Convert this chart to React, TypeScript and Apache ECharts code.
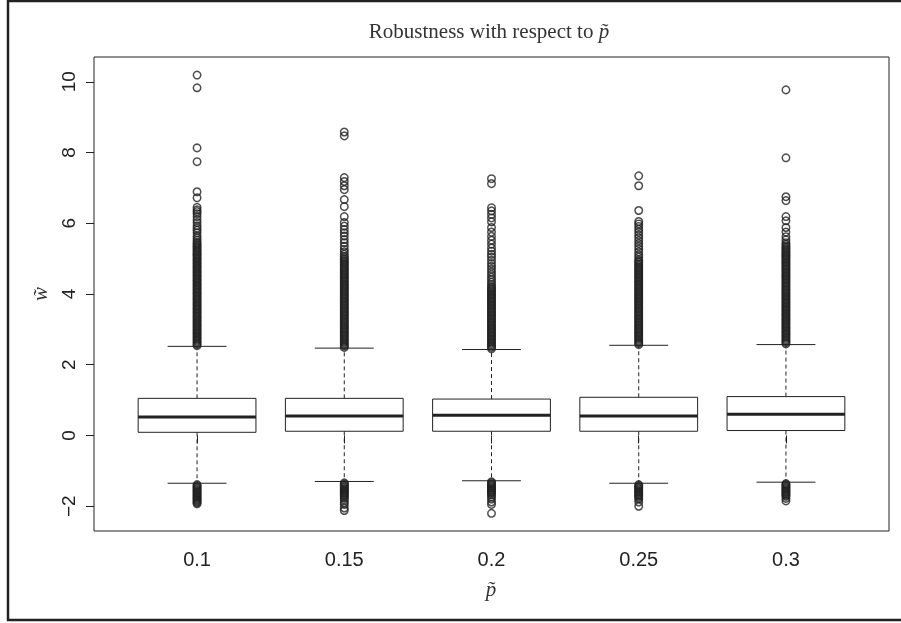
import React, { useEffect, useRef } from "react";
import * as echarts from "echarts";

const categories = ["0.1", "0.15", "0.2", "0.25", "0.3"];
const yTicks = [-2, 0, 2, 4, 6, 8, 10];

const lowerWhisker = [-1.35, -1.3, -1.28, -1.35, -1.32];
const q1 = [0.09, 0.12, 0.12, 0.12, 0.14];
const median = [0.52, 0.55, 0.57, 0.55, 0.6];
const q3 = [1.05, 1.05, 1.03, 1.08, 1.1];
const upperWhisker = [2.52, 2.47, 2.43, 2.55, 2.57];

const outliers1 = [
  2.54, 2.58, 2.62, 2.66, 2.7, 2.74, 2.78, 2.82, 2.86, 2.9, 2.94, 2.98, 3.02, 3.06, 3.1, 3.14, 3.18, 3.22,
  3.26, 3.3, 3.34, 3.38, 3.42, 3.46, 3.5, 3.54, 3.58, 3.62, 3.66, 3.7, 3.74, 3.78, 3.82, 3.86, 3.9, 3.94,
  3.98, 4.02, 4.06, 4.1, 4.14, 4.18, 4.22, 4.26, 4.3, 4.34, 4.38, 4.42, 4.46, 4.5, 4.54, 4.58, 4.62, 4.66,
  4.7, 4.74, 4.78, 4.82, 4.86, 4.9, 4.94, 4.98, 5.02, 5.06, 5.1, 5.14, 5.18, 5.22, 5.26, 5.3, 5.34, 5.38,
  5.42, 5.46, 5.52, 5.58, 5.64, 5.73, 5.8, 5.86, 5.93, 6.02, 6.1, 6.19, 6.27, 6.33, 6.38, 6.45, 6.72, 6.89,
  7.74, 8.13, 9.83, 10.19,
  -1.39, -1.42, -1.45, -1.48, -1.51, -1.54, -1.57, -1.6, -1.63, -1.66, -1.69, -1.72, -1.75, -1.78, -1.81,
  -1.84, -1.87, -1.9, -1.93,
];
const outliers2 = [
  2.49, 2.53, 2.57, 2.61, 2.65, 2.69, 2.73, 2.77, 2.81, 2.85, 2.89, 2.93, 2.97, 3.01, 3.05, 3.09, 3.13, 3.17,
  3.21, 3.25, 3.29, 3.33, 3.37, 3.41, 3.45, 3.49, 3.53, 3.57, 3.61, 3.65, 3.69, 3.73, 3.77, 3.81, 3.85, 3.89,
  3.93, 3.97, 4.01, 4.05, 4.09, 4.13, 4.17, 4.21, 4.25, 4.29, 4.33, 4.37, 4.41, 4.45, 4.49, 4.53, 4.57, 4.61,
  4.65, 4.69, 4.73, 4.77, 4.81, 4.85, 4.89, 4.93, 4.97, 5.01, 5.06, 5.12, 5.19, 5.26, 5.35, 5.45, 5.54, 5.64,
  5.73, 5.82, 5.92, 6.02, 6.19, 6.47, 6.67, 6.95, 7.06, 7.18, 7.29, 8.47, 8.58,
  -1.34, -1.37, -1.4, -1.43, -1.46, -1.49, -1.52, -1.55, -1.58, -1.61, -1.64, -1.67, -1.7, -1.74, -1.78,
  -1.83, -1.9, -1.95, -2.05, -2.12,
];
const outliers3 = [
  2.45, 2.49, 2.53, 2.57, 2.61, 2.65, 2.69, 2.73, 2.77, 2.81, 2.85, 2.89, 2.93, 2.97, 3.01, 3.05, 3.09, 3.13,
  3.17, 3.21, 3.25, 3.29, 3.33, 3.37, 3.41, 3.45, 3.49, 3.53, 3.57, 3.61, 3.65, 3.69, 3.73, 3.77, 3.81, 3.85,
  3.89, 3.93, 3.97, 4.01, 4.05, 4.09, 4.13, 4.17, 4.21, 4.27, 4.33, 4.4, 4.47, 4.55, 4.62, 4.7, 4.78, 4.86,
  4.95, 5.04, 5.12, 5.21, 5.3, 5.41, 5.52, 5.63, 5.75, 5.88, 6.04, 6.15, 6.25, 6.35, 6.44, 7.12, 7.26,
  -1.31, -1.34, -1.37, -1.4, -1.43, -1.46, -1.49, -1.52, -1.55, -1.58, -1.61, -1.64, -1.68, -1.74, -1.8,
  -1.88, -1.95, -2.2,
];
const outliers4 = [
  2.57, 2.61, 2.65, 2.69, 2.73, 2.77, 2.81, 2.85, 2.89, 2.93, 2.97, 3.01, 3.05, 3.09, 3.13, 3.17, 3.21, 3.25,
  3.29, 3.33, 3.37, 3.41, 3.45, 3.49, 3.53, 3.57, 3.61, 3.65, 3.69, 3.73, 3.77, 3.81, 3.85, 3.89, 3.93, 3.97,
  4.01, 4.05, 4.09, 4.13, 4.17, 4.21, 4.25, 4.29, 4.33, 4.37, 4.41, 4.45, 4.49, 4.53, 4.57, 4.61, 4.65, 4.69,
  4.73, 4.77, 4.81, 4.85, 4.89, 4.93, 4.97, 5.04, 5.11, 5.19, 5.27, 5.35, 5.43, 5.51, 5.59, 5.67, 5.75, 5.83,
  5.91, 5.98, 6.05, 6.36, 7.06, 7.34,
  -1.39, -1.42, -1.45, -1.48, -1.51, -1.54, -1.57, -1.6, -1.63, -1.66, -1.69, -1.72, -1.76, -1.8, -1.88, -2.0,
];
const outliers5 = [
  2.59, 2.63, 2.67, 2.71, 2.75, 2.79, 2.83, 2.87, 2.91, 2.95, 2.99, 3.03, 3.07, 3.11, 3.15, 3.19, 3.23, 3.27,
  3.31, 3.35, 3.39, 3.43, 3.47, 3.51, 3.55, 3.59, 3.63, 3.67, 3.71, 3.75, 3.79, 3.83, 3.87, 3.91, 3.95, 3.99,
  4.03, 4.07, 4.11, 4.15, 4.19, 4.23, 4.27, 4.31, 4.35, 4.39, 4.43, 4.47, 4.51, 4.55, 4.59, 4.63, 4.67, 4.71,
  4.75, 4.79, 4.83, 4.87, 4.91, 4.95, 4.99, 5.03, 5.07, 5.11, 5.15, 5.19, 5.23, 5.27, 5.31, 5.35, 5.4, 5.45,
  5.53, 5.62, 5.75, 5.88, 6.07, 6.19, 6.64, 6.75, 7.85, 9.77,
  -1.36, -1.39, -1.42, -1.45, -1.48, -1.51, -1.54, -1.57, -1.6, -1.63, -1.66, -1.69, -1.72, -1.78, -1.85,
];
const outlierGroups = [outliers1, outliers2, outliers3, outliers4, outliers5];

const INK = "#222";

export default function App() {
  const ref = useRef<HTMLDivElement>(null);
  useEffect(() => {
    if (!ref.current) return;
    const chart = echarts.init(ref.current, null, { renderer: "svg" });
    const boxData = categories.map((_, i) => [i + 1, lowerWhisker[i], q1[i], median[i], q3[i], upperWhisker[i]]);
    const outlierData: number[][] = [];
    outlierGroups.forEach((g, i) => g.forEach((v) => outlierData.push([i + 1, v])));
    const tickPos = categories.map((_, i) => i + 1);

    chart.setOption({
      animation: false,
      grid: { left: 94, right: 12, top: 57, bottom: 92, show: true, borderColor: INK, borderWidth: 1, backgroundColor: "transparent" },
      xAxis: {
        type: "value",
        min: 0.3,
        max: 5.7,
        axisLine: { show: false },
        splitLine: { show: false },
        axisTick: { show: true, customValues: tickPos, length: 8, inside: false, lineStyle: { color: INK, width: 1 } },
        axisLabel: {
          customValues: tickPos,
          formatter: (v: number) => categories[Math.round(v) - 1] ?? "",
          fontSize: 20,
          fontFamily: "Liberation Sans, Arial, sans-serif",
          color: INK,
          margin: 18,
        },
      },
      yAxis: {
        type: "value",
        min: -2.7,
        max: 10.7,
        axisLine: { show: false },
        splitLine: { show: false },
        axisTick: { show: true, customValues: yTicks, length: 8, inside: false, lineStyle: { color: INK, width: 1 } },
        axisLabel: {
          customValues: yTicks,
          formatter: (v: number) => (v < 0 ? "\u2212" + Math.abs(v) : String(v)),
          rotate: 90,
          fontSize: 19,
          fontFamily: "Liberation Sans, Arial, sans-serif",
          color: INK,
          margin: 16,
        },
      },
      series: [
        {
          type: "custom",
          data: boxData,
          renderItem: (params: any, api: any) => {
            const x = api.value(0);
            const lo = api.coord([x, api.value(1)]);
            const b1 = api.coord([x, api.value(2)]);
            const md = api.coord([x, api.value(3)]);
            const b3 = api.coord([x, api.value(4)]);
            const hi = api.coord([x, api.value(5)]);
            const unit = api.size([1, 0])[0];
            const hw = unit * 0.4;
            const cw = unit * 0.2;
            const cx = lo[0];
            const ls = { stroke: INK, lineWidth: 1 };
            return {
              type: "group",
              children: [
                { type: "line", shape: { x1: cx, y1: b3[1], x2: cx, y2: hi[1] }, style: { ...ls, lineDash: [4, 3] } },
                { type: "line", shape: { x1: cx, y1: b1[1], x2: cx, y2: lo[1] }, style: { ...ls, lineDash: [4, 3] } },
                { type: "line", shape: { x1: cx - cw, y1: hi[1], x2: cx + cw, y2: hi[1] }, style: ls },
                { type: "line", shape: { x1: cx - cw, y1: lo[1], x2: cx + cw, y2: lo[1] }, style: ls },
                { type: "rect", shape: { x: cx - hw, y: b3[1], width: hw * 2, height: b1[1] - b3[1] }, style: { fill: "#fff", stroke: INK, lineWidth: 1 } },
                { type: "line", shape: { x1: cx - hw, y1: md[1], x2: cx + hw, y2: md[1] }, style: { stroke: INK, lineWidth: 3 } },
              ],
            };
          },
          z: 2,
        },
        {
          type: "scatter",
          data: outlierData,
          symbol: "circle",
          symbolSize: 7.5,
          itemStyle: { color: "transparent", borderColor: INK, borderWidth: 1.5 },
          z: 3,
        },
      ],
      graphic: [
        {
          type: "rect",
          shape: { x: 8, y: 1, width: 905, height: 619 },
          style: { fill: "none", stroke: INK, lineWidth: 2.5 },
          silent: true,
        },
        {
          type: "text",
          x: 489,
          y: 31,
          style: {
            text: "{a|Robustness with respect to }{b|p\u0303}",
            align: "center",
            verticalAlign: "middle",
            rich: {
              a: { fontFamily: "Liberation Serif, Times New Roman, serif", fontSize: 21, fill: "#333" },
              b: { fontFamily: "Liberation Serif, Times New Roman, serif", fontSize: 21, fontStyle: "italic", fill: "#333" },
            },
          },
        },
        {
          type: "text",
          x: 40,
          y: 294,
          rotation: Math.PI / 2,
          style: {
            text: "w\u0303",
            align: "center",
            verticalAlign: "middle",
            fontFamily: "Liberation Serif, Times New Roman, serif",
            fontSize: 21,
            fontStyle: "italic",
            fill: "#333",
          },
        },
        {
          type: "text",
          x: 491,
          y: 589,
          style: {
            text: "p\u0303",
            align: "center",
            verticalAlign: "middle",
            fontFamily: "Liberation Serif, Times New Roman, serif",
            fontSize: 21,
            fontStyle: "italic",
            fill: "#333",
          },
        },
      ],
    });
    return () => chart.dispose();
  }, []);
  return <div ref={ref} style={{ position: "fixed", left: 0, top: 0, width: 901, height: 623 }} />;
}
